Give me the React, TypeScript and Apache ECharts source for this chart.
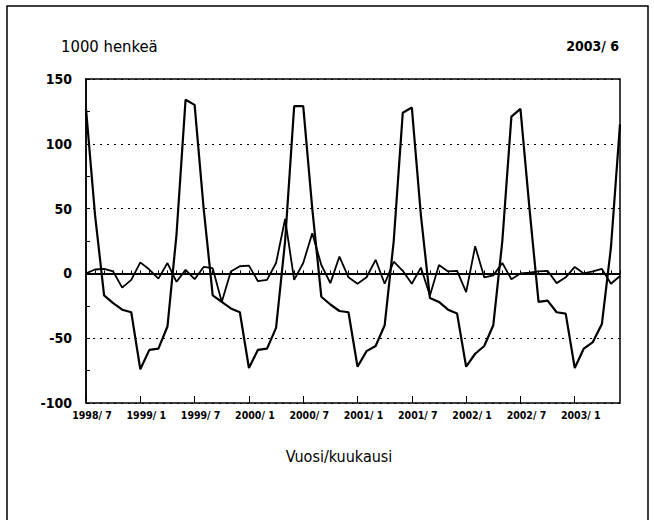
import React, { useEffect, useRef } from "react";
import * as echarts from "echarts";

const startYear = 1998;
const startMonth = 7;
const monthCount = 60;
const months: string[] = [];
for (let k = 0; k < monthCount; k++) {
  const m0 = startMonth - 1 + k;
  months.push(`${startYear + Math.floor(m0 / 12)}/ ${(m0 % 12) + 1}`);
}

const seriesA = [
  127, 45, -17, -23, -28, -30, -74, -59, -58, -41, 30, 134,
  130, 50, -17, -22, -27, -30, -73, -59, -58, -42, 25, 129,
  129, 50, -18, -24, -29, -30, -72, -60, -56, -40, 25, 124,
  128, 45, -19, -22, -28, -31, -72, -62, -56, -40, 25, 121,
  127, 50, -22, -21, -30, -31, -73, -58, -53, -39, 20, 115,
];

const seriesB = [
  0, 3, 3.5, 1.5, -11, -5, 8.5, 3, -4, 8, -6.5, 2.7,
  -4.5, 5, 4, -22, 1.5, 5.5, 6, -6, -5, 8, 42, -5,
  8, 31, 6.5, -7.5, 13, -3, -8, -3, 10.5, -8, 9, 2,
  -8, 4.5, -17, 6.5, 1.5, 2, -14.5, 21, -3, -1.5, 8, -4.5,
  0, 0.5, 1.5, 2, -7.5, -3, 5, 0, 1.5, 3.5, -8, -2,
];

const yMin = -100;
const yMax = 150;
const yStep = 50;

const unitLabel = "1000 henkeä";
const dateLabel = "2003/ 6";
const xName = "Vuosi/kuukausi";

const FONT = "'DejaVu Sans Condensed', 'Liberation Sans Narrow', sans-serif";

export default function App() {
  const ref = useRef<HTMLDivElement>(null);
  useEffect(() => {
    if (!ref.current) return;
    const chart = echarts.init(ref.current, undefined, { renderer: "svg" });
    chart.setOption({
      animation: false,
      backgroundColor: "#fff",
      grid: {
        left: 86,
        right: 34,
        top: 79,
        bottom: 117,
        show: true,
        borderColor: "#000",
        borderWidth: 1.5,
        backgroundColor: "transparent",
      },
      xAxis: [
        {
          type: "category",
          data: months,
          boundaryGap: false,
          axisLine: { show: true, lineStyle: { color: "#000", width: 1.5 } },
          axisTick: { show: true, inside: true, interval: 0, length: 3, lineStyle: { color: "#000", width: 1 } },
          axisLabel: {
            show: true,
            interval: 5,
            color: "#000",
            fontFamily: FONT,
            fontWeight: "bold",
            fontSize: 10.5,
            margin: 6,
            padding: [0, 0, 0, 12],
          },
          splitLine: { show: false },
        },
        {
          type: "category",
          data: months,
          boundaryGap: false,
          position: "bottom",
          axisLine: { show: false },
          axisTick: { show: true, inside: true, interval: 5, length: 7, lineStyle: { color: "#000", width: 1 } },
          axisLabel: { show: false },
          splitLine: { show: false },
        },
      ],
      yAxis: {
        type: "value",
        min: yMin,
        max: yMax,
        interval: yStep,
        axisLine: { show: true, lineStyle: { color: "#000", width: 1.5 } },
        axisTick: { show: true, inside: true, length: 4, lineStyle: { color: "#000" } },
        minorTick: { show: true, splitNumber: 2, length: 4, lineStyle: { color: "#000" } },
        axisLabel: {
          color: "#000",
          fontFamily: FONT,
          fontWeight: "bold",
          fontSize: 14,
          margin: 14,
        },
        splitLine: { show: true, lineStyle: { color: "#000", type: [2, 5], width: 1 } },
      },
      graphic: [
        {
          type: "rect",
          shape: { x: 7, y: 6, width: 641, height: 540 },
          style: { fill: "none", stroke: "#000", lineWidth: 1.5 },
          silent: true,
        },
        {
          type: "text",
          x: 61,
          y: 46,
          style: { text: unitLabel, fill: "#000", font: `16.5px ${FONT}`, textVerticalAlign: "middle" },
        },
        {
          type: "text",
          x: 619,
          y: 46,
          style: { text: dateLabel, fill: "#000", font: `bold 14px ${FONT}`, textAlign: "right", textVerticalAlign: "middle" },
        },
        {
          type: "text",
          x: 339,
          y: 456,
          style: { text: xName, fill: "#000", font: `16px ${FONT}`, textAlign: "center", textVerticalAlign: "middle" },
        },
      ],
      series: [
        {
          type: "line",
          data: seriesA,
          symbol: "none",
          lineStyle: { color: "#000", width: 2.2 },
          markLine: {
            silent: true,
            symbol: "none",
            label: { show: false },
            lineStyle: { color: "#000", type: "solid", width: 2 },
            data: [{ yAxis: 0 }],
          },
        },
        {
          type: "line",
          data: seriesB,
          symbol: "none",
          lineStyle: { color: "#000", width: 1.8 },
        },
      ],
    });
    return () => chart.dispose();
  }, []);
  return (
    <div
      ref={ref}
      style={{ position: "fixed", left: 0, top: 0, width: 654, height: 520 }}
    />
  );
}
